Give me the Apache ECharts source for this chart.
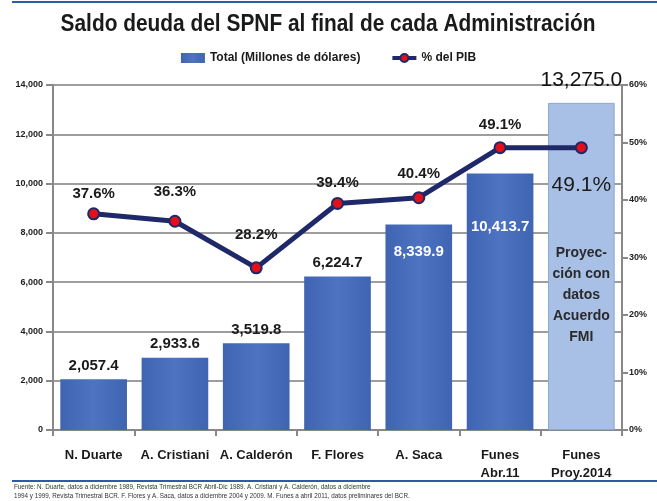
<!DOCTYPE html>
<html>
<head>
<meta charset="utf-8">
<script src="https://cdn.jsdelivr.net/npm/echarts@6/dist/echarts.min.js"></script>
<style>
  html, body { margin: 0; padding: 0; background: #fff; }
  #chart { width: 657px; height: 501px; }
</style>
</head>
<body>
<div id="chart"></div>
<script>
const categories = ["N. Duarte", "A. Cristiani", "A. Calderón", "F. Flores", "A. Saca", "Funes\nAbr.11", "Funes\nProy.2014"];
const totalDeuda = [2057.4, 2933.6, 3519.8, 6224.7, 8339.9, 10413.7, 13275.0];
const pctPib = [37.6, 36.3, 28.2, 39.4, 40.4, 49.1, 49.1];
const leftTicks = [0, 2000, 4000, 6000, 8000, 10000, 12000, 14000];
const rightTicks = [0, 10, 20, 30, 40, 50, 60];

const FONT = "'Liberation Sans', Arial, sans-serif";
const fmt = v => v.toLocaleString("en-US", { minimumFractionDigits: 1, maximumFractionDigits: 1 });

// separacion de las etiquetas de la linea (px sobre el punto)
const lineLabelDist = [6, 15, 19, 7, 10, 9];

const chart = echarts.init(document.getElementById("chart"));

const barBlue = new echarts.graphic.LinearGradient(0, 0, 1, 0, [
  { offset: 0, color: "#3f64b2" },
  { offset: 0.5, color: "#4d73c1" },
  { offset: 1, color: "#3f64b2" },
]);

const barData = totalDeuda.map((v, i) => {
  const item = { value: v };
  if (i === 4) {
    item.label = { position: "insideTop", distance: 20, color: "#fff" };
  }
  if (i === 5) {
    item.label = { position: "insideTop", distance: 46, color: "#fff" };
  }
  if (i === 6) {
    item.itemStyle = { color: "#a9c0e6", borderColor: "#8ea7d2", borderWidth: 1 };
    item.label = { fontSize: 21, distance: 12, fontWeight: "normal", color: "#111" };
  }
  return item;
});

const lineData = pctPib.map((v, i) => {
  const item = { value: v };
  if (i < 6) {
    item.label = { position: "top", distance: lineLabelDist[i] };
  } else {
    item.label = { position: "bottom", distance: 21, fontSize: 21, fontWeight: "normal" };
  }
  return item;
});

const option = {
  animation: false,
  backgroundColor: "#fff",
  legend: {
    top: 47,
    left: "center",
    itemGap: 30,
    itemWidth: 24,
    itemHeight: 10,
    textStyle: { fontFamily: FONT, fontSize: 12, fontWeight: "bold", color: "#1a1a1a" },
    data: [
      { name: "Total (Millones de dólares)", icon: "rect" },
      { name: "% del PIB", lineStyle: { width: 4 } },
    ],
  },
  grid: { left: 53, right: 35, top: 85, bottom: 71 },
  xAxis: {
    type: "category",
    data: categories,
    axisLine: { lineStyle: { color: "#888", width: 2 } },
    axisTick: { show: true, length: 6, lineStyle: { color: "#888", width: 2 } },
    axisLabel: {
      fontFamily: FONT, fontSize: 13, fontWeight: "bold", color: "#1a1a1a",
      margin: 16, lineHeight: 18, interval: 0,
    },
  },
  yAxis: [
    {
      type: "value",
      min: 0,
      max: leftTicks[leftTicks.length - 1],
      interval: leftTicks[1] - leftTicks[0],
      axisLine: { show: true, lineStyle: { color: "#888", width: 2 } },
      axisTick: { show: true, length: 7, lineStyle: { color: "#888", width: 2 } },
      splitLine: { lineStyle: { color: "#9d9d9d", width: 2 } },
      axisLabel: {
        fontFamily: FONT, fontSize: 9, fontWeight: "bold", color: "#222", margin: 10,
        formatter: v => v.toLocaleString("en-US"),
      },
    },
    {
      type: "value",
      min: 0,
      max: rightTicks[rightTicks.length - 1],
      interval: rightTicks[1] - rightTicks[0],
      axisLine: { show: true, lineStyle: { color: "#888", width: 2 } },
      axisTick: { show: true, length: 6, lineStyle: { color: "#888", width: 2 } },
      splitLine: { show: false },
      axisLabel: {
        fontFamily: FONT, fontSize: 9, fontWeight: "bold", color: "#222", margin: 7,
        formatter: v => v + "%",
      },
    },
  ],
  series: [
    {
      name: "Total (Millones de dólares)",
      type: "bar",
      data: barData,
      barWidth: "82%",
      itemStyle: { color: barBlue },
      label: {
        show: true,
        position: "top",
        distance: 6,
        fontFamily: FONT,
        fontSize: 15,
        fontWeight: "bold",
        color: "#1a1a1a",
        formatter: p => fmt(p.value),
      },
      z: 2,
    },
    {
      name: "% del PIB",
      type: "line",
      yAxisIndex: 1,
      data: lineData,
      symbol: "circle",
      symbolSize: 11,
      lineStyle: { color: "#1f2868", width: 5 },
      itemStyle: { color: "#e3101c", borderColor: "#1f2868", borderWidth: 2 },
      label: {
        show: true,
        fontFamily: FONT,
        fontSize: 15,
        fontWeight: "bold",
        color: "#1a1a1a",
        formatter: p => p.value.toFixed(1) + "%",
      },
      z: 5,
    },
  ],
};

chart.setOption(option);

// texto dentro de la barra proyectada, titulo angosto y lineas de marco
const lastPos = chart.convertToPixel({ xAxisIndex: 0, yAxisIndex: 0 }, [categories.length - 1, 5480]);
chart.setOption({
  graphic: [
    {
      type: "text",
      x: 328,
      y: 24,
      scaleX: 0.87,
      style: {
        text: "Saldo deuda del SPNF al final de cada Administración",
        fontFamily: FONT,
        fontSize: 24,
        fontWeight: "bold",
        fill: "#1a1a1a",
        align: "center",
        verticalAlign: "middle",
      },
    },
    {
      type: "text",
      x: lastPos[0],
      y: lastPos[1],
      style: {
        text: "Proyec-\nción con\ndatos\nAcuerdo\nFMI",
        fontFamily: FONT,
        fontSize: 14,
        fontWeight: "bold",
        fill: "#2a2a2a",
        align: "center",
        verticalAlign: "middle",
        lineHeight: 21,
      },
      z: 10,
    },
    { type: "line", shape: { x1: 12, y1: 2, x2: 657, y2: 2 }, style: { stroke: "#2b5ca8", lineWidth: 2 } },
    { type: "line", shape: { x1: 12, y1: 481, x2: 657, y2: 481 }, style: { stroke: "#2b5ca8", lineWidth: 2 } },
    {
      type: "text",
      x: 14,
      y: 483,
      scaleX: 0.9,
      style: {
        text: "Fuente: N. Duarte, datos a diciembre 1989, Revista Trimestral BCR Abril-Dic 1989. A. Cristiani y A. Calderón, datos a diciembre\n1994 y 1999, Revista Trimestral BCR. F. Flores y A. Saca, datos a diciembre 2004 y 2009. M. Funes a abril 2011, datos preliminares del BCR.",
        fontFamily: FONT,
        fontSize: 7,
        fill: "#333",
        lineHeight: 9,
      },
    },
  ],
});
</script>
</body>
</html>
